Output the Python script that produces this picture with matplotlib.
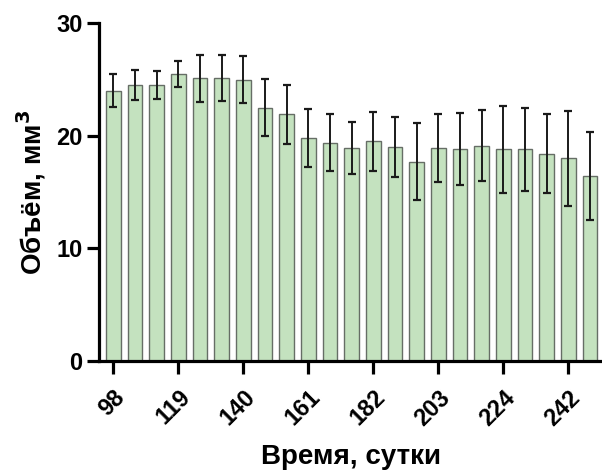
import matplotlib
matplotlib.use("Agg")
import matplotlib.pyplot as plt
import numpy as np

plt.rcParams['font.family'] = ['Liberation Sans', 'DejaVu Sans']
plt.rcParams['font.weight'] = 'bold'

# volume by day (mean and SD), 23 time points
means = [24.0, 24.5, 24.5, 25.5, 25.1, 25.1, 25.0, 22.5, 21.9, 19.8, 19.4, 18.9,
         19.5, 19.0, 17.7, 18.9, 18.8, 19.1, 18.8, 18.8, 18.4, 18.0, 16.4]
sds = [1.45, 1.35, 1.25, 1.15, 2.1, 2.05, 2.05, 2.55, 2.6, 2.6, 2.5, 2.3,
       2.6, 2.65, 3.4, 3.05, 3.2, 3.15, 3.85, 3.7, 3.5, 4.2, 3.9]
tick_pos = [0, 3, 6, 9, 12, 15, 18, 21]
tick_labels = ["98", "119", "140", "161", "182", "203", "224", "242"]

fig = plt.figure(figsize=(6.02, 4.71), dpi=100)
ax = fig.add_axes([0.1645, 0.234, 0.8355, 0.7165])

x = np.arange(len(means))
ax.bar(x, means, width=0.68, color="#c4e2bf", edgecolor="#666e66", linewidth=1.0, zorder=2)
ax.errorbar(x, means, yerr=sds, fmt="none", ecolor="#1a1a1a", elinewidth=1.4,
            capsize=3, capthick=1.6, zorder=3)

ax.set_xlim(-0.66, 22.55)
ax.set_ylim(0, 30)
ax.set_yticks([0, 10, 20, 30])
ax.set_xticks(tick_pos)
ax.set_xticklabels(tick_labels, rotation=45, ha="right", rotation_mode="anchor")

for s in ["top", "right"]:
    ax.spines[s].set_visible(False)
for s in ["left", "bottom"]:
    ax.spines[s].set_linewidth(2.3)
ax.tick_params(axis="both", width=2.3, length=9, labelsize=17)
ax.tick_params(axis="y", pad=3)
ax.tick_params(axis="x", pad=9)

ax.set_ylabel("Объём, мм$^\\mathbf{3}$", fontsize=20, fontweight="bold", labelpad=6)
ax.set_xlabel("Время, сутки", fontsize=20, fontweight="bold", labelpad=10)

fig.savefig("out.png", dpi=100)
